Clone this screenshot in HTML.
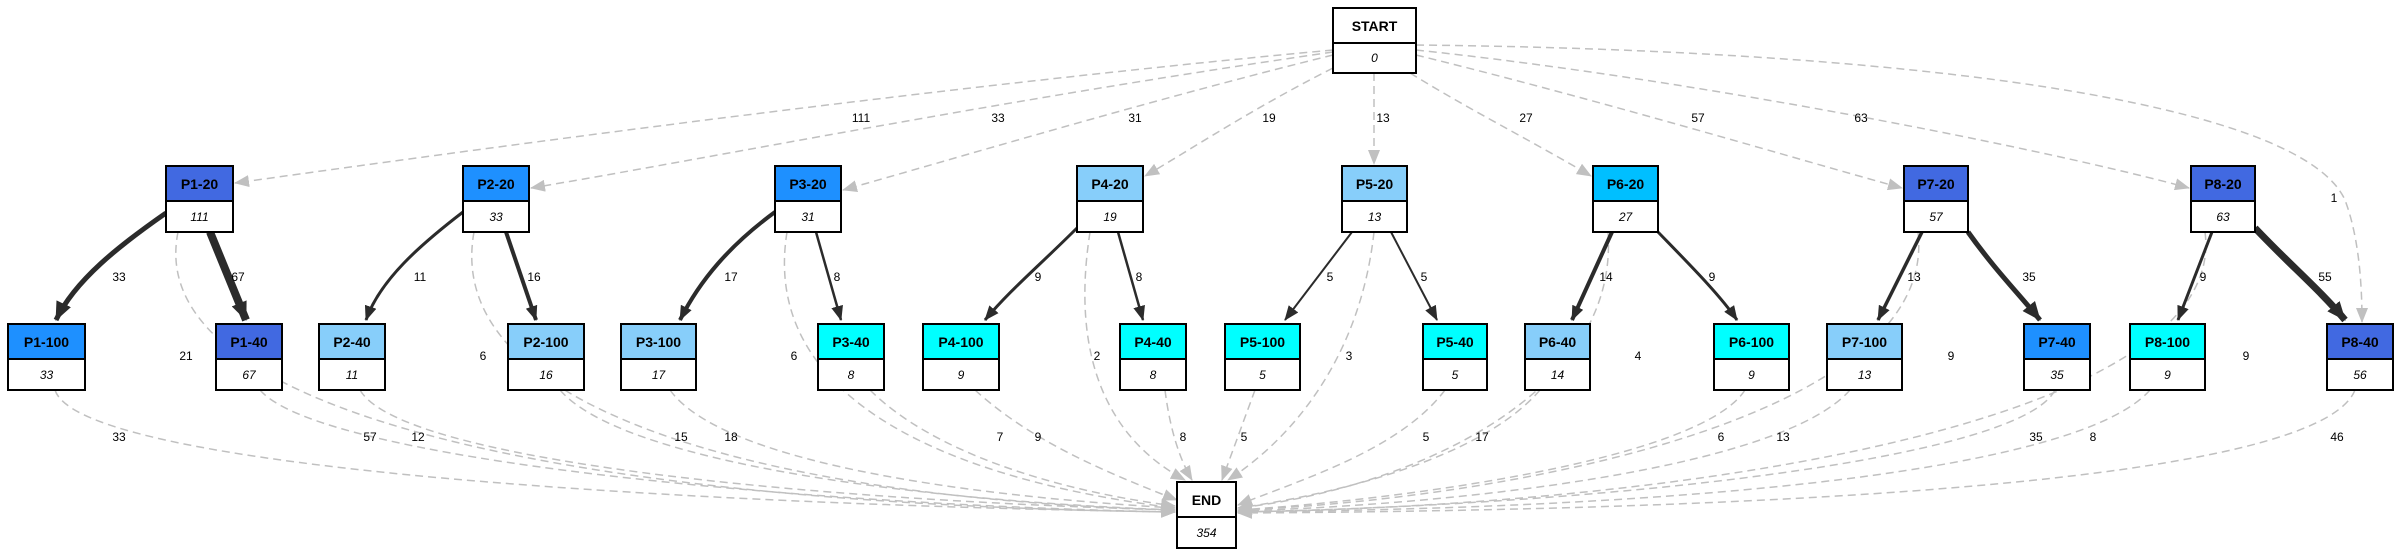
<!DOCTYPE html>
<html><head><meta charset="utf-8"><style>
html,body{margin:0;padding:0;background:#fff;}
svg{display:block;font-family:"Liberation Sans",Arial,sans-serif;}
.g{fill:none;stroke:#c0c0c0;stroke-width:1.5;stroke-dasharray:8,5;}
.d{fill:none;stroke:#2b2b2b;}
.lb{font-size:12px;fill:#000;text-anchor:middle;}
.h{font-size:14px;font-weight:bold;text-anchor:middle;}
.v{font-size:12px;font-style:italic;text-anchor:middle;}
</style></head><body>
<svg width="2400" height="557" viewBox="0 0 2400 557" xmlns="http://www.w3.org/2000/svg">
<defs>
<marker id="ag" markerUnits="userSpaceOnUse" markerWidth="16" markerHeight="12" refX="14" refY="6" orient="auto"><path d="M0,0 L15,6 L0,12 z" fill="#c0c0c0"/></marker>
<marker id="ad" markerUnits="userSpaceOnUse" markerWidth="16" markerHeight="12" refX="14" refY="6" orient="auto"><path d="M0,0 L15,6 L0,12 z" fill="#2b2b2b"/></marker>
<marker id="adb" markerUnits="userSpaceOnUse" markerWidth="20" markerHeight="16" refX="18" refY="8" orient="auto"><path d="M0,0 L19,8 L0,16 z" fill="#2b2b2b"/></marker>
</defs>

<!-- START edges -->
<path class="g" marker-end="url(#ag)" d="M1333,50 C900,90 400,160 235,183"/>
<path class="g" marker-end="url(#ag)" d="M1333,52 C1000,100 700,160 531,188"/>
<path class="g" marker-end="url(#ag)" d="M1333,55 C1150,100 950,160 843,190"/>
<path class="g" marker-end="url(#ag)" d="M1333,68 C1250,110 1190,150 1145,176"/>
<path class="g" marker-end="url(#ag)" d="M1374,73 L1374,164"/>
<path class="g" marker-end="url(#ag)" d="M1410,73 C1470,110 1530,140 1591,176"/>
<path class="g" marker-end="url(#ag)" d="M1416,55 C1600,100 1800,160 1902,188"/>
<path class="g" marker-end="url(#ag)" d="M1416,50 C1700,80 2050,150 2189,188"/>
<path class="g" marker-end="url(#ag)" d="M1416,45 C1900,50 2300,100 2345,200 C2360,240 2362,290 2362,322"/>
<text class="lb" x="861" y="122">111</text>
<text class="lb" x="998" y="122">33</text>
<text class="lb" x="1135" y="122">31</text>
<text class="lb" x="1269" y="122">19</text>
<text class="lb" x="1383" y="122">13</text>
<text class="lb" x="1526" y="122">27</text>
<text class="lb" x="1698" y="122">57</text>
<text class="lb" x="1861" y="122">63</text>
<text class="lb" x="2334" y="202">1</text>

<!-- top to END dashed -->
<path class="g" marker-end="url(#ag)" d="M178,232 C140,420 600,505 1175,512"/>
<path class="g" marker-end="url(#ag)" d="M474,232 C440,420 800,500 1175,510"/>
<path class="g" marker-end="url(#ag)" d="M787,232 C760,400 950,480 1175,508"/>
<path class="g" marker-end="url(#ag)" d="M1090,232 C1070,360 1110,440 1185,480"/>
<path class="g" marker-end="url(#ag)" d="M1374,232 C1360,360 1290,440 1228,480"/>
<path class="g" marker-end="url(#ag)" d="M1608,232 C1620,400 1400,490 1238,508"/>
<path class="g" marker-end="url(#ag)" d="M1918,232 C1940,420 1500,500 1238,510"/>
<path class="g" marker-end="url(#ag)" d="M2205,232 C2230,420 1700,505 1238,512"/>
<text class="lb" x="186" y="360">21</text>
<text class="lb" x="483" y="360">6</text>
<text class="lb" x="794" y="360">6</text>
<text class="lb" x="1097" y="360">2</text>
<text class="lb" x="1349" y="360">3</text>
<text class="lb" x="1638" y="360">4</text>
<text class="lb" x="1951" y="360">9</text>
<text class="lb" x="2246" y="360">9</text>

<!-- bottom to END dashed -->
<path class="g" marker-end="url(#ag)" d="M55,390 C80,470 700,505 1175,512"/>
<path class="g" marker-end="url(#ag)" d="M260,390 C320,460 800,505 1175,512"/>
<path class="g" marker-end="url(#ag)" d="M360,390 C400,460 800,500 1175,510"/>
<path class="g" marker-end="url(#ag)" d="M560,390 C620,460 900,500 1175,510"/>
<path class="g" marker-end="url(#ag)" d="M670,390 C720,460 950,495 1175,508"/>
<path class="g" marker-end="url(#ag)" d="M870,390 C930,450 1050,490 1175,506"/>
<path class="g" marker-end="url(#ag)" d="M975,390 C1030,440 1100,470 1177,500"/>
<path class="g" marker-end="url(#ag)" d="M1165,390 C1170,430 1180,460 1192,480"/>
<path class="g" marker-end="url(#ag)" d="M1255,390 L1222,480"/>
<path class="g" marker-end="url(#ag)" d="M1445,390 C1400,450 1300,480 1238,505"/>
<path class="g" marker-end="url(#ag)" d="M1540,390 C1480,460 1330,495 1238,508"/>
<path class="g" marker-end="url(#ag)" d="M1745,390 C1700,460 1400,500 1238,510"/>
<path class="g" marker-end="url(#ag)" d="M1850,390 C1780,470 1450,505 1238,511"/>
<path class="g" marker-end="url(#ag)" d="M2055,390 C2020,460 1600,505 1238,512"/>
<path class="g" marker-end="url(#ag)" d="M2150,390 C2080,470 1700,508 1238,512"/>
<path class="g" marker-end="url(#ag)" d="M2355,390 C2320,480 1800,510 1238,513"/>
<text class="lb" x="119" y="441">33</text>
<text class="lb" x="370" y="441">57</text>
<text class="lb" x="418" y="441">12</text>
<text class="lb" x="681" y="441">15</text>
<text class="lb" x="731" y="441">18</text>
<text class="lb" x="1000" y="441">7</text>
<text class="lb" x="1038" y="441">9</text>
<text class="lb" x="1183" y="441">8</text>
<text class="lb" x="1244" y="441">5</text>
<text class="lb" x="1426" y="441">5</text>
<text class="lb" x="1482" y="441">17</text>
<text class="lb" x="1721" y="441">6</text>
<text class="lb" x="1783" y="441">13</text>
<text class="lb" x="2036" y="441">35</text>
<text class="lb" x="2093" y="441">8</text>
<text class="lb" x="2337" y="441">46</text>

<!-- solid child edges -->
<path class="d" stroke-width="5" marker-end="url(#adb)" d="M166,213 C120,245 75,280 56,320"/>
<path class="d" stroke-width="8" marker-end="url(#adb)" d="M210,232 L246,320"/>
<path class="d" stroke-width="3" marker-end="url(#ad)" d="M463,212 C420,245 380,280 366,320"/>
<path class="d" stroke-width="4" marker-end="url(#ad)" d="M506,232 L536,320"/>
<path class="d" stroke-width="4" marker-end="url(#ad)" d="M775,212 C730,245 700,280 680,320"/>
<path class="d" stroke-width="2.5" marker-end="url(#ad)" d="M816,232 L841,320"/>
<path class="d" stroke-width="3" marker-end="url(#ad)" d="M1077,228 C1040,265 1010,290 985,320"/>
<path class="d" stroke-width="2.5" marker-end="url(#ad)" d="M1118,232 L1143,320"/>
<path class="d" stroke-width="2" marker-end="url(#ad)" d="M1352,232 L1285,320"/>
<path class="d" stroke-width="2" marker-end="url(#ad)" d="M1391,232 L1437,320"/>
<path class="d" stroke-width="4" marker-end="url(#ad)" d="M1612,232 L1572,320"/>
<path class="d" stroke-width="3" marker-end="url(#ad)" d="M1658,232 C1690,265 1720,295 1737,320"/>
<path class="d" stroke-width="3.5" marker-end="url(#ad)" d="M1922,232 L1878,320"/>
<path class="d" stroke-width="5" marker-end="url(#adb)" d="M1968,232 C1995,270 2020,295 2040,320"/>
<path class="d" stroke-width="3" marker-end="url(#ad)" d="M2212,232 L2178,320"/>
<path class="d" stroke-width="7" marker-end="url(#adb)" d="M2255,228 C2290,265 2320,290 2345,320"/>
<text class="lb" x="119" y="281">33</text>
<text class="lb" x="238" y="281">67</text>
<text class="lb" x="420" y="281">11</text>
<text class="lb" x="534" y="281">16</text>
<text class="lb" x="731" y="281">17</text>
<text class="lb" x="837" y="281">8</text>
<text class="lb" x="1038" y="281">9</text>
<text class="lb" x="1139" y="281">8</text>
<text class="lb" x="1330" y="281">5</text>
<text class="lb" x="1424" y="281">5</text>
<text class="lb" x="1606" y="281">14</text>
<text class="lb" x="1712" y="281">9</text>
<text class="lb" x="1914" y="281">13</text>
<text class="lb" x="2029" y="281">35</text>
<text class="lb" x="2203" y="281">9</text>
<text class="lb" x="2325" y="281">55</text>

<!-- nodes -->
<g stroke="#000" stroke-width="2">
<rect x="1333" y="8" width="83" height="35" fill="#fff"/><rect x="1333" y="43" width="83" height="30" fill="#fff"/>
<rect x="1177" y="482" width="59" height="35" fill="#fff"/><rect x="1177" y="517" width="59" height="31" fill="#fff"/>

<rect x="166" y="166" width="67" height="35" fill="#4169e1"/><rect x="166" y="201" width="67" height="31" fill="#fff"/>
<rect x="463" y="166" width="66" height="35" fill="#1e90ff"/><rect x="463" y="201" width="66" height="31" fill="#fff"/>
<rect x="775" y="166" width="66" height="35" fill="#1e90ff"/><rect x="775" y="201" width="66" height="31" fill="#fff"/>
<rect x="1077" y="166" width="66" height="35" fill="#87cefa"/><rect x="1077" y="201" width="66" height="31" fill="#fff"/>
<rect x="1342" y="166" width="65" height="35" fill="#87cefa"/><rect x="1342" y="201" width="65" height="31" fill="#fff"/>
<rect x="1593" y="166" width="65" height="35" fill="#00bfff"/><rect x="1593" y="201" width="65" height="31" fill="#fff"/>
<rect x="1904" y="166" width="64" height="35" fill="#4169e1"/><rect x="1904" y="201" width="64" height="31" fill="#fff"/>
<rect x="2191" y="166" width="64" height="35" fill="#4169e1"/><rect x="2191" y="201" width="64" height="31" fill="#fff"/>

<rect x="8" y="324" width="77" height="35" fill="#1e90ff"/><rect x="8" y="359" width="77" height="31" fill="#fff"/>
<rect x="216" y="324" width="66" height="35" fill="#4169e1"/><rect x="216" y="359" width="66" height="31" fill="#fff"/>
<rect x="319" y="324" width="66" height="35" fill="#87cefa"/><rect x="319" y="359" width="66" height="31" fill="#fff"/>
<rect x="508" y="324" width="76" height="35" fill="#87cefa"/><rect x="508" y="359" width="76" height="31" fill="#fff"/>
<rect x="621" y="324" width="75" height="35" fill="#87cefa"/><rect x="621" y="359" width="75" height="31" fill="#fff"/>
<rect x="818" y="324" width="66" height="35" fill="#00ffff"/><rect x="818" y="359" width="66" height="31" fill="#fff"/>
<rect x="923" y="324" width="76" height="35" fill="#00ffff"/><rect x="923" y="359" width="76" height="31" fill="#fff"/>
<rect x="1120" y="324" width="66" height="35" fill="#00ffff"/><rect x="1120" y="359" width="66" height="31" fill="#fff"/>
<rect x="1225" y="324" width="75" height="35" fill="#00ffff"/><rect x="1225" y="359" width="75" height="31" fill="#fff"/>
<rect x="1423" y="324" width="64" height="35" fill="#00ffff"/><rect x="1423" y="359" width="64" height="31" fill="#fff"/>
<rect x="1525" y="324" width="65" height="35" fill="#87cefa"/><rect x="1525" y="359" width="65" height="31" fill="#fff"/>
<rect x="1714" y="324" width="75" height="35" fill="#00ffff"/><rect x="1714" y="359" width="75" height="31" fill="#fff"/>
<rect x="1827" y="324" width="75" height="35" fill="#87cefa"/><rect x="1827" y="359" width="75" height="31" fill="#fff"/>
<rect x="2024" y="324" width="66" height="35" fill="#1e90ff"/><rect x="2024" y="359" width="66" height="31" fill="#fff"/>
<rect x="2130" y="324" width="75" height="35" fill="#00ffff"/><rect x="2130" y="359" width="75" height="31" fill="#fff"/>
<rect x="2327" y="324" width="66" height="35" fill="#4169e1"/><rect x="2327" y="359" width="66" height="31" fill="#fff"/>
</g>

<text class="h" x="1374.5" y="31">START</text><text class="v" x="1374.5" y="62">0</text>
<text class="h" x="1206.5" y="505">END</text><text class="v" x="1206.5" y="537">354</text>

<text class="h" x="199.5" y="189">P1-20</text><text class="v" x="199.5" y="221">111</text>
<text class="h" x="496" y="189">P2-20</text><text class="v" x="496" y="221">33</text>
<text class="h" x="808" y="189">P3-20</text><text class="v" x="808" y="221">31</text>
<text class="h" x="1110" y="189">P4-20</text><text class="v" x="1110" y="221">19</text>
<text class="h" x="1374.5" y="189">P5-20</text><text class="v" x="1374.5" y="221">13</text>
<text class="h" x="1625.5" y="189">P6-20</text><text class="v" x="1625.5" y="221">27</text>
<text class="h" x="1936" y="189">P7-20</text><text class="v" x="1936" y="221">57</text>
<text class="h" x="2223" y="189">P8-20</text><text class="v" x="2223" y="221">63</text>

<text class="h" x="46.5" y="347">P1-100</text><text class="v" x="46.5" y="379">33</text>
<text class="h" x="249" y="347">P1-40</text><text class="v" x="249" y="379">67</text>
<text class="h" x="352" y="347">P2-40</text><text class="v" x="352" y="379">11</text>
<text class="h" x="546" y="347">P2-100</text><text class="v" x="546" y="379">16</text>
<text class="h" x="658.5" y="347">P3-100</text><text class="v" x="658.5" y="379">17</text>
<text class="h" x="851" y="347">P3-40</text><text class="v" x="851" y="379">8</text>
<text class="h" x="961" y="347">P4-100</text><text class="v" x="961" y="379">9</text>
<text class="h" x="1153" y="347">P4-40</text><text class="v" x="1153" y="379">8</text>
<text class="h" x="1262.5" y="347">P5-100</text><text class="v" x="1262.5" y="379">5</text>
<text class="h" x="1455" y="347">P5-40</text><text class="v" x="1455" y="379">5</text>
<text class="h" x="1557.5" y="347">P6-40</text><text class="v" x="1557.5" y="379">14</text>
<text class="h" x="1751.5" y="347">P6-100</text><text class="v" x="1751.5" y="379">9</text>
<text class="h" x="1864.5" y="347">P7-100</text><text class="v" x="1864.5" y="379">13</text>
<text class="h" x="2057" y="347">P7-40</text><text class="v" x="2057" y="379">35</text>
<text class="h" x="2167.5" y="347">P8-100</text><text class="v" x="2167.5" y="379">9</text>
<text class="h" x="2360" y="347">P8-40</text><text class="v" x="2360" y="379">56</text>
</svg>
</body></html>
